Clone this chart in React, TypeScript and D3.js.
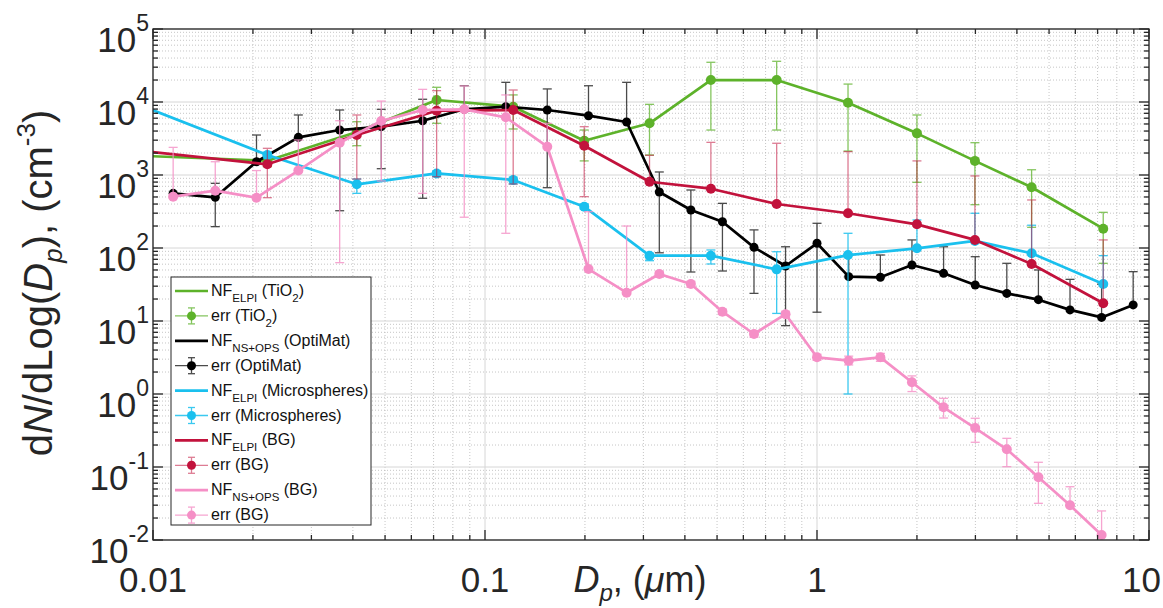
import React from "react";
import * as d3 from "d3";

const W = 1163;
const H = 608;
const PLOT = { left: 153, right: 1149, top: 29, bottom: 540 };

// Axis ticks
const xTickValues = [0.01, 0.1, 1, 10];
const xTickLabels = ["0.01", "0.1", "1", "10"];
const yTickValues = [1e-2, 1e-1, 1, 1e1, 1e2, 1e3, 1e4, 1e5];
const yTickExponents = ["-2", "-1", "0", "1", "2", "3", "4", "5"];

// Particle diameters (µm)
const elpiDp = [0.0096, 0.0221, 0.0411, 0.0715, 0.1216, 0.199, 0.313, 0.479, 0.756, 1.24, 2.0, 2.99, 4.43, 7.28];
const nsopsDp = [0.0115, 0.0154, 0.0205, 0.0274, 0.0365, 0.0487, 0.0649, 0.0866, 0.1155, 0.154, 0.205, 0.267,
  0.335, 0.417, 0.519, 0.646, 0.804, 1.0, 1.246, 1.552, 1.932, 2.406, 2.996, 3.73, 4.644, 5.782, 7.198, 8.96];

// NF_ELPI (TiO2)
const tio2Val = [1820, 1570, 3880, 10650, 8620, 2950, 5110, 20000, 20000, 9780, 3720, 1560, 679, 184];
const tio2Hi = [null, 1900, 5370, 15900, 12500, 4130, 9290, 35000, 36100, 17600, 6640, 2770, 1180, 308];
const tio2Lo = [null, 1300, 2520, 5110, 4270, 1560, 1880, 4130, 4130, 2130, 794, 392, 192, 61.7];

// NF_NS+OPS (OptiMat)
const optiVal = [561, 495, 1520, 3280, 4130, 4590, 5540, 7940, 8620, 7770, 6490, 5320,
  585, 332, 229, 102, 56.7, 116, 40.5, 39.7, 58.5, 45, 31.1, 23.9, 19.6, 14.2, 11.2, 16.6];
const optiHi = [null, 769, 3530, 6640, 7770, 7940, 10900, 16700, 18600, 15100, 16700, 18600,
  1100, 623, 409, 177, 104, 218, 80, 80.2, 129, 104, 76, 61.7, 50, 37.2, 32, 47.4];
const optiLo = [null, 196, null, null, 324, 1220, 480, null, null, 670, null, null,
  86, 46.9, 48.4, 23.9, 8.63, 13.2, null, null, null, null, null, null, null, null, null, null];

// NF_ELPI (Microspheres)
const microVal = [8270, 1880, 746, 1050, 855, 368, 78.5, 78.5, 51, 80, 99, 125, 84.6, 32.1];
const microHi = [null, 2050, 881, 1140, 935, 400, 84.6, 94, 88.9, 159, 242, 299, 205, 78.5];
const microLo = [null, 1700, 561, 948, 753, 340, 67, 60.4, 12.7, 1.0, null, null, null, null];

// NF_ELPI (BG)
const bgElpiVal = [2100, 1400, 3530, 7600, 7770, 2520, 809, 649, 401, 299, 211, 129, 60.4, 17.5];
const bgElpiHi = [null, 2320, 6640, 14300, 14600, 4590, 1860, 2800, 2720, 2090, 1560, 970, 455, 129];
const bgElpiLo = [null, 489, 881, 948, 753, 505, null, null, null, null, null, null, null, null];

// NF_NS+OPS (BG)
const bgNsVal = [505, 610, 489, 1150, 2770, 5490, 7770, 7940, 6170, 2440, 51.5, 24.4,
  44, 32.1, 13.4, 6.64, 12.4, 3.18, 2.86, 3.18, 1.45, 0.657, 0.342, 0.175, 0.0722, 0.0299, 0.0117];
const bgNsHi = [2390, 1520, 1150, 3020, 5540, 10300, 14900, 16600, 12500, 5110, 314, 200,
  48, 35, 14.5, 7.3, 13.6, 3.5, 3.3, 3.6, 1.77, 0.873, 0.465, 0.247, 0.116, 0.0537, 0.025];
const bgNsLo = [null, null, null, null, 63, 828, 561, 264, 159, null, null, null,
  40, 29, 12.3, 6.0, 11.2, 2.9, 2.5, 2.8, 1.08, 0.469, 0.218, 0.101, 0.0318, null, null];

const GREEN = "#5db22a";
const BLACK = "#000000";
const CYAN = "#1ac0ee";
const RED = "#c2123c";
const PINK = "#f58fc6";

const seriesList = [
  { key: "tio2", x: elpiDp, y: tio2Val, hi: tio2Hi, lo: tio2Lo, color: GREEN, barOpacity: 0.75, r: 5 },
  { key: "opti", x: nsopsDp, y: optiVal, hi: optiHi, lo: optiLo, color: BLACK, barOpacity: 0.7, r: 4.5 },
  { key: "micro", x: elpiDp, y: microVal, hi: microHi, lo: microLo, color: CYAN, barOpacity: 0.85, r: 5 },
  { key: "bgElpi", x: elpiDp, y: bgElpiVal, hi: bgElpiHi, lo: bgElpiLo, color: RED, barOpacity: 0.55, r: 5 },
  { key: "bgNs", x: nsopsDp, y: bgNsVal, hi: bgNsHi, lo: bgNsLo, color: PINK, barOpacity: 0.8, r: 5 },
];

type LegendItem = { kind: "line" | "err"; color: string; barOpacity: number; main: string; sub?: string; tail: string; tailSub?: string; tailEnd?: string };
const legendItems: LegendItem[] = [
  { kind: "line", color: GREEN, barOpacity: 0.75, main: "NF", sub: "ELPI", tail: " (TiO", tailSub: "2", tailEnd: ")" },
  { kind: "err", color: GREEN, barOpacity: 0.75, main: "err (TiO", sub: "2", tail: ")" },
  { kind: "line", color: BLACK, barOpacity: 0.7, main: "NF", sub: "NS+OPS", tail: " (OptiMat)" },
  { kind: "err", color: BLACK, barOpacity: 0.7, main: "err (OptiMat)", tail: "" },
  { kind: "line", color: CYAN, barOpacity: 0.85, main: "NF", sub: "ELPI", tail: " (Microspheres)" },
  { kind: "err", color: CYAN, barOpacity: 0.85, main: "err (Microspheres)", tail: "" },
  { kind: "line", color: RED, barOpacity: 0.55, main: "NF", sub: "ELPI", tail: " (BG)" },
  { kind: "err", color: RED, barOpacity: 0.55, main: "err (BG)", tail: "" },
  { kind: "line", color: PINK, barOpacity: 0.8, main: "NF", sub: "NS+OPS", tail: " (BG)" },
  { kind: "err", color: PINK, barOpacity: 0.8, main: "err (BG)", tail: "" },
];

const FONT = "'Liberation Sans', Arial, Helvetica, sans-serif";

export default function App() {
  const xs = d3.scaleLog().domain([0.01, 10]).range([PLOT.left, PLOT.right]);
  const ys = d3.scaleLog().domain([1e-2, 1e5]).range([PLOT.bottom, PLOT.top]);

  const xMinor: number[] = [];
  for (let e = -2; e < 1; e++) for (let k = 2; k <= 9; k++) xMinor.push(k * Math.pow(10, e));
  const yMinor: number[] = [];
  for (let e = -2; e < 5; e++) for (let k = 2; k <= 9; k++) yMinor.push(k * Math.pow(10, e));

  const line = d3.line<[number, number]>().x((d) => xs(d[0])).y((d) => ys(d[1]));
  const axisColor = "#262626";
  const capHalf = 4.5;

  const legX = 171, legY = 277, legW = 200, legH = 248;
  const rowStep = 24.9;

  return (
    <svg width={W} height={H} style={{ position: "absolute", left: 0, top: 0, background: "#fff" }} fontFamily={FONT}>
      <defs>
        <clipPath id="plotclip">
          <rect x={PLOT.left} y={PLOT.top} width={PLOT.right - PLOT.left} height={PLOT.bottom - PLOT.top} />
        </clipPath>
      </defs>
      <rect x={0} y={0} width={W} height={H} fill="#fff" />
      <rect x={PLOT.left} y={PLOT.top} width={PLOT.right - PLOT.left} height={PLOT.bottom - PLOT.top} fill="#fff" />

      {/* minor grid */}
      <g stroke="#b0b0b0" strokeWidth={0.8} strokeDasharray="1,2" opacity={0.9}>
        {xMinor.map((v) => (
          <line key={"xm" + v} x1={xs(v)} x2={xs(v)} y1={PLOT.top} y2={PLOT.bottom} />
        ))}
        {yMinor.map((v) => (
          <line key={"ym" + v} x1={PLOT.left} x2={PLOT.right} y1={ys(v)} y2={ys(v)} />
        ))}
      </g>
      {/* major grid */}
      <g stroke="#d6d6d6" strokeWidth={1}>
        {xTickValues.map((v) => (
          <line key={"xg" + v} x1={xs(v)} x2={xs(v)} y1={PLOT.top} y2={PLOT.bottom} />
        ))}
        {yTickValues.map((v) => (
          <line key={"yg" + v} x1={PLOT.left} x2={PLOT.right} y1={ys(v)} y2={ys(v)} />
        ))}
      </g>

      {/* data */}
      {seriesList.map((s) => {
        const pts: [number, number][] = s.x.map((xv, i) => [xv, s.y[i]] as [number, number]).filter((p) => p[1] != null);
        return (
          <g key={s.key}>
            <path d={line(pts) || ""} fill="none" stroke={s.color} strokeWidth={2.7} strokeLinejoin="round" clipPath="url(#plotclip)" />
            <g stroke={s.color} strokeWidth={1.3} opacity={s.barOpacity} clipPath="url(#plotclip)">
              {s.y.map((v, i) => {
                const hi = s.hi[i];
                const lo = s.lo[i];
                if (hi == null && lo == null) return null;
                const px = xs(s.x[i]);
                const top = hi != null ? ys(hi) : ys(v);
                const bot = lo != null ? ys(lo) : ys(v);
                return (
                  <g key={i}>
                    <line x1={px} x2={px} y1={top} y2={bot} />
                    {hi != null && <line x1={px - capHalf} x2={px + capHalf} y1={top} y2={top} />}
                    {lo != null && <line x1={px - capHalf} x2={px + capHalf} y1={bot} y2={bot} />}
                  </g>
                );
              })}
            </g>
            <g fill={s.color}>
              {s.y.map((v, i) =>
                s.x[i] >= 0.01 && s.x[i] <= 10 ? <circle key={i} cx={xs(s.x[i])} cy={ys(v)} r={s.r} /> : null
              )}
            </g>
          </g>
        );
      })}

      {/* frame & ticks */}
      <g stroke={axisColor} strokeWidth={1.3} fill="none">
        <rect x={PLOT.left} y={PLOT.top} width={PLOT.right - PLOT.left} height={PLOT.bottom - PLOT.top} />
        {xTickValues.map((v) => (
          <g key={"xt" + v}>
            <line x1={xs(v)} x2={xs(v)} y1={PLOT.bottom} y2={PLOT.bottom - 10} />
            <line x1={xs(v)} x2={xs(v)} y1={PLOT.top} y2={PLOT.top + 10} />
          </g>
        ))}
        {xMinor.map((v) => (
          <g key={"xmt" + v}>
            <line x1={xs(v)} x2={xs(v)} y1={PLOT.bottom} y2={PLOT.bottom - 5} />
            <line x1={xs(v)} x2={xs(v)} y1={PLOT.top} y2={PLOT.top + 5} />
          </g>
        ))}
        {yTickValues.map((v) => (
          <g key={"yt" + v}>
            <line x1={PLOT.left} x2={PLOT.left + 10} y1={ys(v)} y2={ys(v)} />
            <line x1={PLOT.right} x2={PLOT.right - 10} y1={ys(v)} y2={ys(v)} />
          </g>
        ))}
        {yMinor.map((v) => (
          <g key={"ymt" + v}>
            <line x1={PLOT.left} x2={PLOT.left + 5} y1={ys(v)} y2={ys(v)} />
            <line x1={PLOT.right} x2={PLOT.right - 5} y1={ys(v)} y2={ys(v)} />
          </g>
        ))}
      </g>

      {/* tick labels */}
      <g fill="#262626" fontSize={35}>
        {xTickValues.map((v, i) => {
          const last = i === xTickValues.length - 1;
          return (
            <text key={"xl" + v} x={last ? 1161 : xs(v)} y={592} textAnchor={last ? "end" : "middle"}>
              {xTickLabels[i]}
            </text>
          );
        })}
        {yTickValues.map((v, i) => (
          <text key={"yl" + v} x={149} y={ys(v) + 23} textAnchor="end">
            10
            <tspan fontSize={23} dy={-21}>
              {yTickExponents[i]}
            </tspan>
          </text>
        ))}
      </g>

      {/* axis titles */}
      <text x={640} y={592} fontSize={36} textAnchor="middle" fill="#262626">
        <tspan fontStyle="italic">D</tspan>
        <tspan fontStyle="italic" fontSize={24} dy={9}>p</tspan>
        <tspan dy={-9}>, (</tspan>
        <tspan fontStyle="italic">μ</tspan>
        <tspan>m)</tspan>
      </text>
      <text transform="translate(52, 283) rotate(-90)" fontSize={40} textAnchor="middle" fill="#262626">
        <tspan>d</tspan>
        <tspan fontStyle="italic">N</tspan>
        <tspan>/dLog(</tspan>
        <tspan fontStyle="italic">D</tspan>
        <tspan fontStyle="italic" fontSize={26} dy={10}>p</tspan>
        <tspan dy={-10}>), (cm</tspan>
        <tspan fontSize={26} dy={-17}>-3</tspan>
        <tspan dy={17}>)</tspan>
      </text>

      {/* legend */}
      <g>
        <rect x={legX} y={legY} width={legW} height={legH} fill="#fff" stroke="#262626" strokeWidth={1} />
        {legendItems.map((it, i) => {
          const cy = legY + 14 + i * rowStep;
          const lx1 = legX + 4, lx2 = legX + 37, mx = (lx1 + lx2) / 2;
          return (
            <g key={"lg" + i}>
              {it.kind === "line" ? (
                <line x1={lx1} x2={lx2} y1={cy} y2={cy} stroke={it.color} strokeWidth={2.7} />
              ) : (
                <g>
                  <g stroke={it.color} strokeWidth={1.3} opacity={it.barOpacity}>
                    <line x1={lx1} x2={lx2} y1={cy} y2={cy} />
                    <line x1={mx} x2={mx} y1={cy - 8} y2={cy + 8} />
                    <line x1={mx - 3.5} x2={mx + 3.5} y1={cy - 8} y2={cy - 8} />
                    <line x1={mx - 3.5} x2={mx + 3.5} y1={cy + 8} y2={cy + 8} />
                  </g>
                  <circle cx={mx} cy={cy} r={4.5} fill={it.color} />
                </g>
              )}
              <text x={legX + 40} y={cy + 5} fontSize={16} fill="#111">
                <tspan>{it.main}</tspan>
                {it.sub && (
                  <tspan fontSize={11.5} dy={6}>
                    {it.sub}
                  </tspan>
                )}
                <tspan dy={it.sub ? -6 : 0}>{it.tail}</tspan>
                {it.tailSub && (
                  <tspan fontSize={11.5} dy={6}>
                    {it.tailSub}
                  </tspan>
                )}
                {it.tailEnd && <tspan dy={-6}>{it.tailEnd}</tspan>}
              </text>
            </g>
          );
        })}
      </g>
    </svg>
  );
}
